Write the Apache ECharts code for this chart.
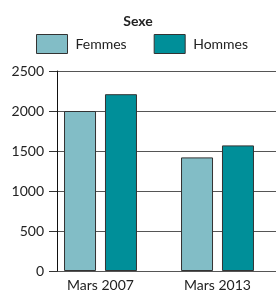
<!DOCTYPE html>
<html>
<head>
<meta charset="utf-8">
<script src="https://cdn.jsdelivr.net/npm/echarts@6/dist/echarts.min.js"></script>
<style>
  html, body { margin: 0; padding: 0; background: #fff; }
  #chart { width: 276px; height: 297px; }
</style>
</head>
<body>
<div id="chart"></div>
<script>
// données
const categories = ['Mars 2007', 'Mars 2013'];
const femmes = [2000, 1420];
const hommes = [2210, 1570];
const yTicks = [0, 500, 1000, 1500, 2000, 2500];

const font = 'Lato, "Noto Sans", sans-serif';
const chart = echarts.init(document.getElementById('chart'));

chart.setOption({
  animation: false,
  title: {
    text: 'Sexe',
    left: 'center',
    top: 9,
    textStyle: { fontFamily: font, fontSize: 14, fontWeight: 'bold', color: '#222' }
  },
  legend: {
    top: 34,
    left: 36,
    padding: 0,
    icon: 'rect',
    itemWidth: 31,
    itemHeight: 19,
    itemGap: 27,
    itemStyle: { borderColor: '#333', borderWidth: 1 },
    textStyle: { fontFamily: font, fontSize: 14, color: '#222', padding: [0, 0, 0, 3] },
    data: ['Femmes', 'Hommes']
  },
  // grille 0 : axe des y et lignes horizontales
  // grille 1 : barres et libellés des catégories
  grid: [
    { left: 57, right: 0, top: 71, bottom: 26 },
    { left: 42, right: -2, top: 71, bottom: 26 }
  ],
  xAxis: [
    {
      gridIndex: 0, type: 'category', data: categories,
      axisLine: { show: false }, axisTick: { show: false }, axisLabel: { show: false }
    },
    {
      gridIndex: 1, type: 'category', data: categories,
      axisLine: { show: false }, axisTick: { show: false },
      axisLabel: { fontFamily: font, fontSize: 14, color: '#222', margin: 7 }
    }
  ],
  yAxis: [
    {
      gridIndex: 0, type: 'value', min: 0, max: 2500, interval: 500,
      axisLine: { show: true, lineStyle: { color: '#111', width: 1 } },
      axisTick: { show: true, length: 8, lineStyle: { color: '#333' } },
      axisLabel: {
        fontFamily: font, fontSize: 14, color: '#222', margin: 13,
        formatter: v => (yTicks.includes(v) ? String(v) : '')
      },
      splitLine: { show: true, lineStyle: { color: '#555', width: 1 } }
    },
    {
      gridIndex: 1, type: 'value', min: 0, max: 2500, interval: 500, show: false
    }
  ],
  series: [
    {
      name: 'Femmes', type: 'bar', xAxisIndex: 1, yAxisIndex: 1,
      data: femmes, barWidth: 32, barGap: '28%',
      itemStyle: { color: '#82BDC6', borderColor: '#333', borderWidth: 1 }
    },
    {
      name: 'Hommes', type: 'bar', xAxisIndex: 1, yAxisIndex: 1,
      data: hommes, barWidth: 32,
      itemStyle: { color: '#008F99', borderColor: '#333', borderWidth: 1 }
    }
  ]
});
</script>
</body>
</html>
